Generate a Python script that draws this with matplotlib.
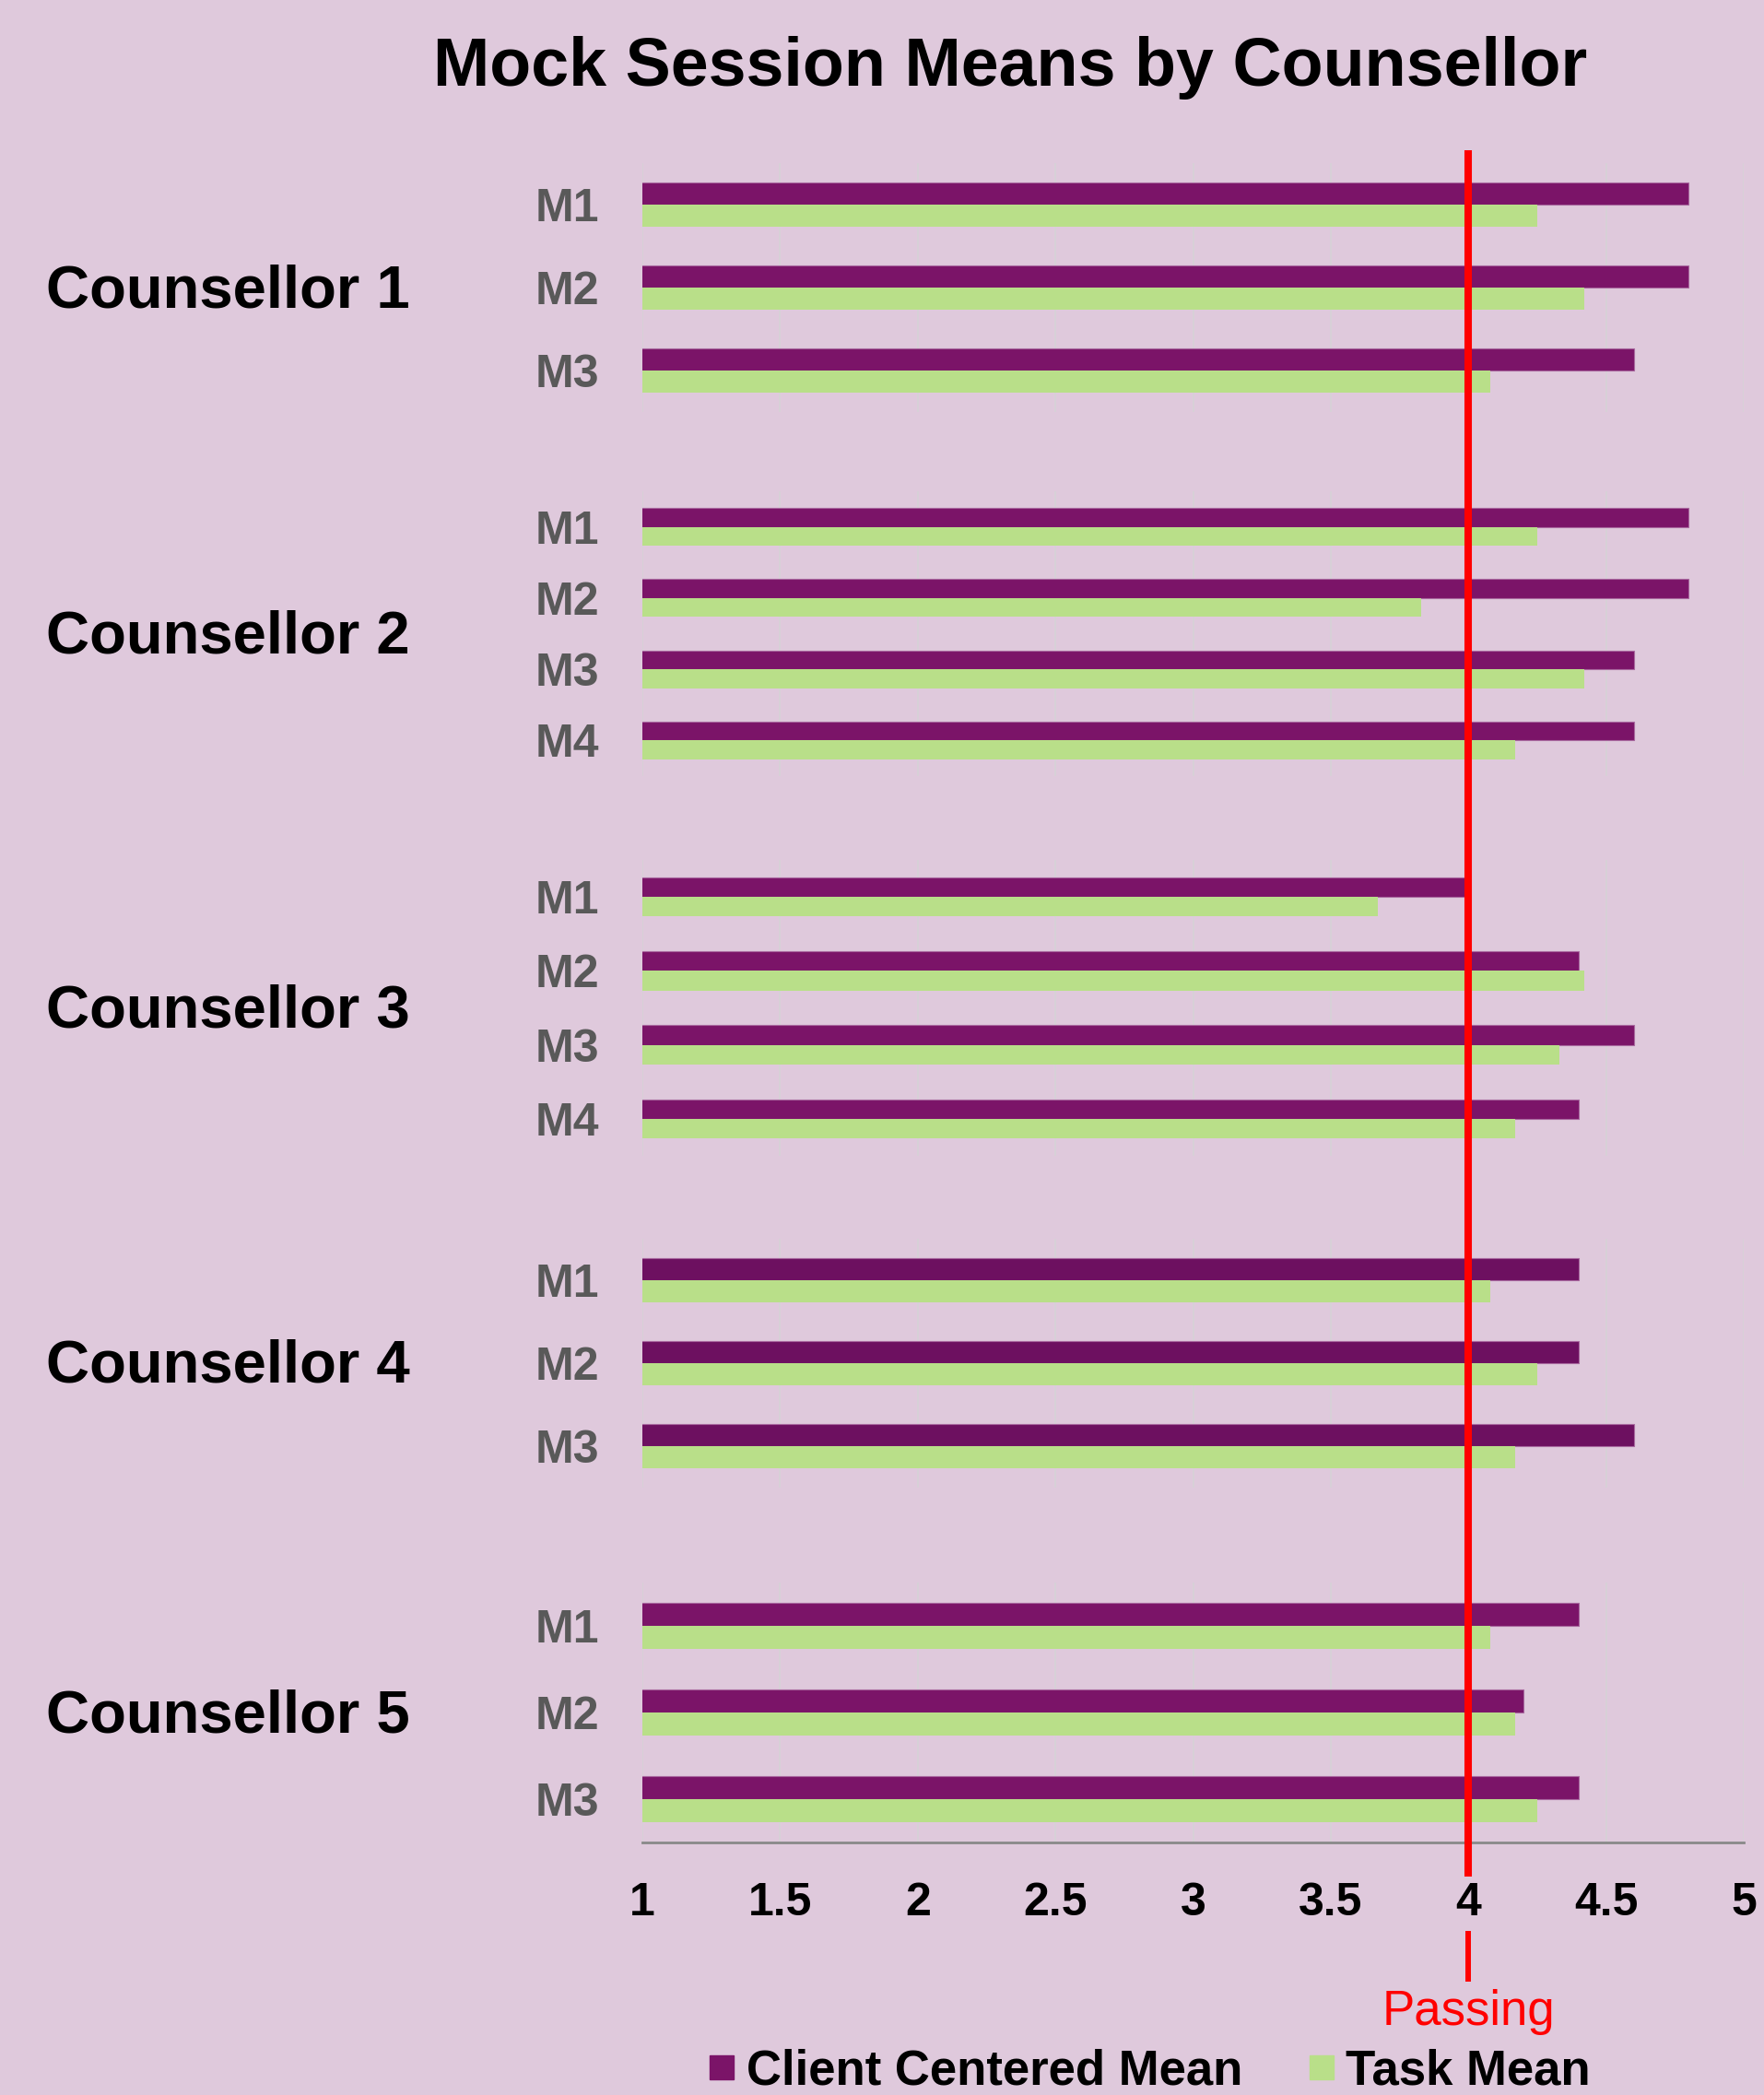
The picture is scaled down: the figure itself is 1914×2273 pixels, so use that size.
import numpy as np
import matplotlib.pyplot as plt
from matplotlib.lines import Line2D

plt.rcParams['font.family'] = ['Liberation Sans', 'DejaVu Sans']

# data
counsellors = ['Counsellor 1', 'Counsellor 2', 'Counsellor 3', 'Counsellor 4', 'Counsellor 5']
sessions = [['M1', 'M2', 'M3'],
            ['M1', 'M2', 'M3', 'M4'],
            ['M1', 'M2', 'M3', 'M4'],
            ['M1', 'M2', 'M3'],
            ['M1', 'M2', 'M3']]
client_centered = [[4.8, 4.8, 4.6],
                   [4.8, 4.8, 4.6, 4.6],
                   [4.0, 4.4, 4.6, 4.4],
                   [4.4, 4.4, 4.6],
                   [4.4, 4.2, 4.4]]
task_mean = [[4.25, 4.42, 4.08],
             [4.25, 3.83, 4.42, 4.17],
             [3.67, 4.42, 4.33, 4.17],
             [4.08, 4.25, 4.17],
             [4.08, 4.17, 4.25]]
x_ticks = [1, 1.5, 2, 2.5, 3, 3.5, 4, 4.5, 5]
x_ticklabels = ['1', '1.5', '2', '2.5', '3', '3.5', '4', '4.5', '5']
passing = 4.0

# colours / layout
bg = '#DFC9DC'
purple = ['#7B1468', '#7B1468', '#7B1468', '#6D1060', '#7B1468']
green = '#B9DF89'
W, H = 1914, 2273
left_px, right_px = 697, 1892
panels_px = [(177, 447), (533, 842), (933, 1254), (1344, 1614), (1717, 1999)]
bar_h = 0.265

fig = plt.figure(figsize=(W / 100, H / 100), dpi=100, facecolor=bg)
L = left_px / W
Wd = (right_px - left_px) / W

for i, (top, bottom) in enumerate(panels_px):
    ax = fig.add_axes([L, 1 - bottom / H, Wd, (bottom - top) / H])
    ax.set_facecolor('none')
    n = len(sessions[i])
    y = np.arange(n)
    ax.barh(y - bar_h / 2, client_centered[i], height=bar_h, color=purple[i],
            edgecolor='#A8679E', linewidth=0.8, zorder=3)
    ax.barh(y + bar_h / 2, task_mean[i], height=bar_h, color=green, zorder=3)
    ax.set_xlim(1, 5)
    ax.set_ylim(n - 0.5, -0.5)
    ax.set_xticks(x_ticks)
    ax.set_yticks(y)
    ax.set_yticklabels(sessions[i], fontsize=36, fontweight='bold', color='#595959')
    ax.grid(axis='x', color='#D6D2D6', linewidth=1.2, zorder=0)
    ax.set_axisbelow(True)
    for s in ax.spines.values():
        s.set_visible(False)
    ax.tick_params(axis='y', length=0, pad=34)
    ax.tick_params(axis='x', length=0)
    if i == len(panels_px) - 1:
        ax.spines['bottom'].set_visible(True)
        ax.spines['bottom'].set_color('#898989')
        ax.spines['bottom'].set_linewidth(2)
        ax.set_xticklabels(x_ticklabels, fontsize=36, fontweight='bold')
        ax.tick_params(axis='x', pad=31)
    else:
        ax.tick_params(axis='x', labelbottom=False)
    fig.text(50 / W, 1 - ((top + bottom) / 2 + 4) / H, counsellors[i], fontsize=47,
             fontweight='bold', ha='left', va='center')

# passing line overlay
ax_line = fig.add_axes([L, 0, Wd, 1])
ax_line.set_xlim(1, 5)
ax_line.set_ylim(H, 0)
ax_line.axis('off')
ax_line.plot([passing, passing], [163, 2036], color='#FF0000', linewidth=5.8, solid_capstyle='butt')
ax_line.plot([passing, passing], [2095, 2150], color='#FF0000', linewidth=4.3, solid_capstyle='butt')
ax_line.text(passing, 2183, 'Passing', color='#FF0000', fontsize=38, ha='center', va='center')

fig.text(1096 / W, 1 - 74 / H, 'Mock Session Means by Counsellor', fontsize=53,
         fontweight='bold', ha='center', va='center')

handles = [Line2D([], [], marker='s', linestyle='none', markersize=18.5, color=purple[0]),
           Line2D([], [], marker='s', linestyle='none', markersize=18.5, color=green)]
leg = fig.legend(handles, ['Client Centered Mean', 'Task Mean'], loc='center',
                 bbox_to_anchor=(1248 / W, 1 - 2247 / H), ncol=2, frameon=False,
                 prop={'size': 38, 'weight': 'bold'}, handlelength=0.5,
                 handletextpad=0.25, columnspacing=1.38, borderaxespad=0)

fig.savefig('out.png', dpi=100, facecolor=bg)
